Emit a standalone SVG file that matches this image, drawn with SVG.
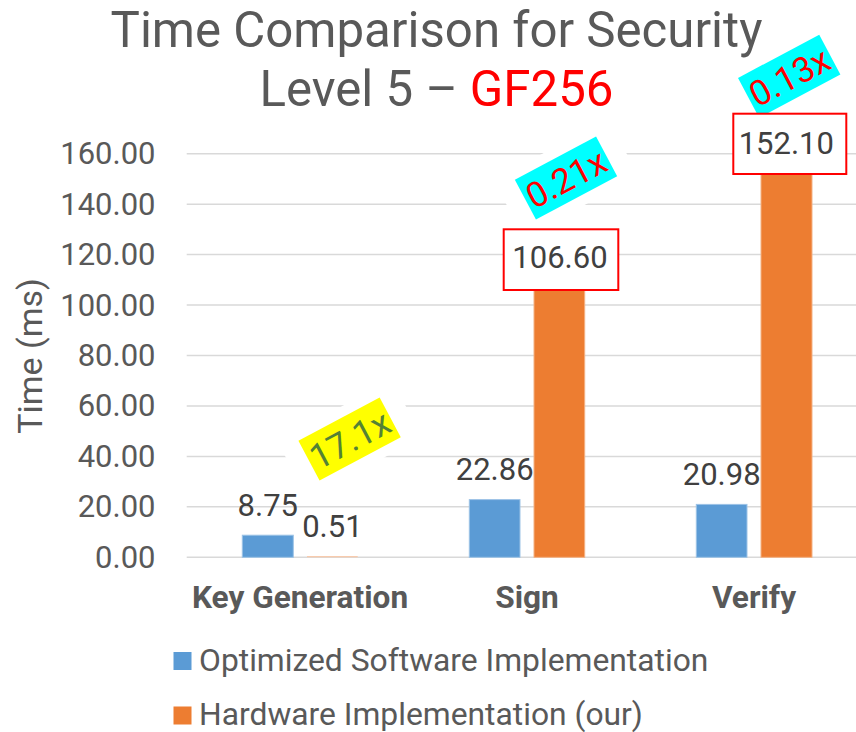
<svg xmlns="http://www.w3.org/2000/svg" width="856" height="732" viewBox="0 0 856 732">
<style>
text{font-family:Roboto,"Liberation Sans",sans-serif}
.grid{stroke:#D9D9D9;stroke-width:1.5;fill:none}
.ax{font-size:31px;fill:#595959;text-anchor:end}
.cat{font-size:31.6px;font-weight:bold;fill:#595959;text-anchor:middle}
.dl{font-size:31px;fill:#404040;text-anchor:middle}
.blue{fill:#5B9BD5;stroke:#9DC3E6;stroke-width:1}
.orange{fill:#ED7D31;stroke:#F4B183;stroke-width:1}
.rbox{fill:#FFFFFF;stroke:#FF0000;stroke-width:2}
.lg{font-size:31.8px;fill:#595959}
.rot{font-size:35px;text-anchor:middle}
</style>
<rect width="856" height="732" fill="#FFFFFF"/>
<g id="gridlines">
<path class="grid" d="M186.7 557.3H856M186.7 506.85H856M186.7 456.4H856M186.7 405.95H856M186.7 355.5H856M186.7 305.05H856M186.7 254.6H856M186.7 204.15H856M186.7 153.7H856"/>
</g>
<g id="y-axis">
<text class="ax" x="155.5" y="567.8">0.00</text>
<text class="ax" x="155.5" y="517.35">20.00</text>
<text class="ax" x="155.5" y="466.9">40.00</text>
<text class="ax" x="155.5" y="416.45">60.00</text>
<text class="ax" x="155.5" y="366">80.00</text>
<text class="ax" x="155.5" y="315.55">100.00</text>
<text class="ax" x="155.5" y="265.1">120.00</text>
<text class="ax" x="155.5" y="214.65">140.00</text>
<text class="ax" x="155.5" y="164.2">160.00</text>
<text x="42" y="356" transform="rotate(-90 42 356)" style="font-size:34px;fill:#595959;text-anchor:middle">Time (ms)</text>
</g>
<g id="bars">
<rect class="blue" x="242.3" y="535.2" width="51" height="22.1"/>
<rect x="307" y="556" width="50.7" height="1.3" fill="#F8CBAD"/>
<rect class="blue" x="469.3" y="499.6" width="50.7" height="57.7"/>
<rect class="orange" x="534" y="288.4" width="50.7" height="268.9"/>
<rect class="blue" x="696.3" y="504.4" width="50.7" height="52.9"/>
<rect class="orange" x="761" y="173.6" width="51" height="383.7"/>
</g>
<g id="categories">
<text class="cat" x="300" y="608.3">Key Generation</text>
<text class="cat" x="527" y="608.3">Sign</text>
<text class="cat" x="754" y="608.3">Verify</text>
</g>
<g id="speedup-17x" transform="translate(349.6 439) rotate(-28)">
<rect x="-65" y="-32.5" width="130" height="65" fill="#FFFFFF"/>
<rect x="-46" y="-22.5" width="92" height="45" fill="#FFFF00"/>
<text class="rot" x="0" y="13" fill="#548235">17.1x</text>
</g>
<g id="speedup-021x" transform="translate(566 178) rotate(-28)">
<rect x="-65" y="-32.5" width="130" height="65" fill="#FFFFFF"/>
<rect x="-46" y="-22.5" width="92" height="45" fill="#00FFFF"/>
<text class="rot" x="0" y="13" fill="#FF0000">0.21x</text>
</g>
<g id="speedup-013x" transform="translate(789.2 76.2) rotate(-28)">
<rect x="-65" y="-32.5" width="130" height="65" fill="#FFFFFF"/>
<rect x="-46" y="-22.5" width="92" height="45" fill="#00FFFF"/>
<text class="rot" x="0" y="13" fill="#FF0000">0.13x</text>
</g>
<g id="title">
<text x="436.5" y="46.7" style="font-size:49.2px;fill:#595959;text-anchor:middle">Time Comparison for Security</text>
<text x="436.5" y="106" style="font-size:49.2px;fill:#595959;text-anchor:middle">Level 5 – <tspan fill="#FF0000">GF256</tspan></text>
</g>
<g id="data-labels">
<text class="dl" x="267.8" y="515.7">8.75</text>
<text class="dl" x="332.4" y="537">0.51</text>
<text class="dl" x="494.7" y="480">22.86</text>
<text class="dl" x="721.7" y="484.5">20.98</text>
<rect class="rbox" x="503.7" y="229.3" width="114.6" height="60.7"/>
<text class="dl" x="560" y="268.3">106.60</text>
<rect class="rbox" x="733.3" y="113.7" width="113" height="60.3"/>
<text class="dl" x="786.3" y="154.3">152.10</text>
</g>
<g id="legend">
<rect x="173.5" y="652" width="18" height="18" fill="#5B9BD5"/>
<text class="lg" x="199" y="671">Optimized Software Implementation</text>
<rect x="173.5" y="706.5" width="18" height="18" fill="#ED7D31"/>
<text class="lg" x="199" y="725">Hardware Implementation (our)</text>
</g>
</svg>
